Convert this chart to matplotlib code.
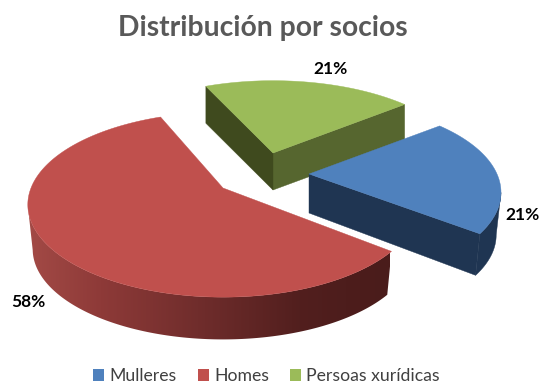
import numpy as np
import matplotlib
matplotlib.use("Agg")
from matplotlib import pyplot as plt
from matplotlib.patches import Patch, Polygon
from matplotlib.colors import LinearSegmentedColormap

categories = ["Mulleres", "Homes", "Persoas xurídicas"]
shares = [21, 58, 21]
share_labels = ["21%", "58%", "21%"]

top_colors = ["#4F81BD", "#C0504D", "#9BBB59"]
start_angle = 40.0

# layout of the exploded pie, in pixels
apex = [(309, 174), (223, 188), (273, 153)]
depth = [43, 45, 37]
turn = [-1.5, -3.3, -1]
radius_x = [188, 192, 191]
radius_y = [87, 89.5, 87]
tilt = [0.203, 0.18, 0.203]
label_pos = [(522, 215), (28, 302), (331, 69)]


def project(i, theta, scale=1.0):
    t = np.radians(theta)
    w = 1 + tilt[i] * np.sin(t)
    cx, cy = apex[i]
    return cx + radius_x[i] * scale * np.cos(t) / w, cy - radius_y[i] * scale * np.sin(t) / w


fig = plt.figure(figsize=(5.41, 3.85), dpi=100)
plt.rcParams["font.family"] = ["Lato", "DejaVu Sans"]
ax = fig.add_axes([0, 0, 1, 1])

# red outer wall gets darker going right
red_wall = LinearSegmentedColormap.from_list("red_wall", [
    (0.0, "#A34A46"), (0.2, "#8E3A38"), (0.47, "#702D2C"),
    (0.75, "#521F1E"), (0.88, "#4D1D1C"), (1.0, "#4A1C1B")])

angle = start_angle
spans = []
for i, s in enumerate(shares):
    sweep = 360.0 * s / sum(shares)
    spans.append((angle + turn[i], angle + turn[i] - sweep))
    angle -= sweep

for i in [1, 2, 0]:
    a0, a1 = spans[i]
    cx, cy = apex[i]
    d = depth[i]
    th = np.linspace(a0, a1, 240)
    xs, ys = project(i, th)
    xb, yb = project(i, th, 0.975)
    yb = yb + d

    # flat cut faces
    if i == 2:
        ax.fill([xs[-1], cx, cx, xs[-1]], [ys[-1], cy, cy + d, ys[-1] + d], color="#56662F", lw=0.3, zorder=2)
        ax.fill([xs[0], cx, cx, xs[0]], [ys[0], cy, cy + d, ys[0] + d], color="#3F4A1E", lw=0.3, zorder=2)
    if i == 0:
        ax.fill([cx, xs[-1], xb[-1], cx], [cy, ys[-1], yb[-1], cy + d - 4], color="#1F3552", lw=0.3, zorder=2)

    # outer wall, only the part facing the viewer
    front = np.sin(np.radians(th)) < -tilt[i]
    if front.any():
        outline = np.c_[np.r_[xs[front], xb[front][::-1]], np.r_[ys[front], yb[front][::-1]]]
        if i == 1:
            im = ax.imshow(np.linspace(0, 1, 256)[None, :], cmap=red_wall, aspect="auto",
                           extent=(28, 390, 350, 190), zorder=2)
            im.set_clip_path(Polygon(outline, closed=True, transform=ax.transData))
        else:
            ax.fill(outline[:, 0], outline[:, 1], color="#1F3552", lw=0.3, zorder=2)

    ax.fill(np.r_[cx, xs], np.r_[cy, ys], color=top_colors[i], lw=0.3, zorder=3)

ax.set_xlim(0, 541)
ax.set_ylim(385, 0)
ax.axis("off")

for (x, y), t in zip(label_pos, share_labels):
    ax.text(x, y, t, ha="center", va="center", fontsize=12.5, fontweight="bold", color="black")

ax.text(263, 28, "Distribución por socios", ha="center", va="center", fontsize=20.3,
        fontweight="bold", color="#595959")

handles = [Patch(facecolor=c, edgecolor="none") for c in top_colors]
ax.legend(handles, categories, loc="center", bbox_to_anchor=(266.5 / 541, 1 - 376 / 385), ncol=3, frameon=False,
          fontsize=12.7, labelcolor="#404040", handlelength=0.62, handleheight=0.62,
          handletextpad=0.3, columnspacing=1.2, borderpad=0)

fig.savefig("out.png", dpi=100)
